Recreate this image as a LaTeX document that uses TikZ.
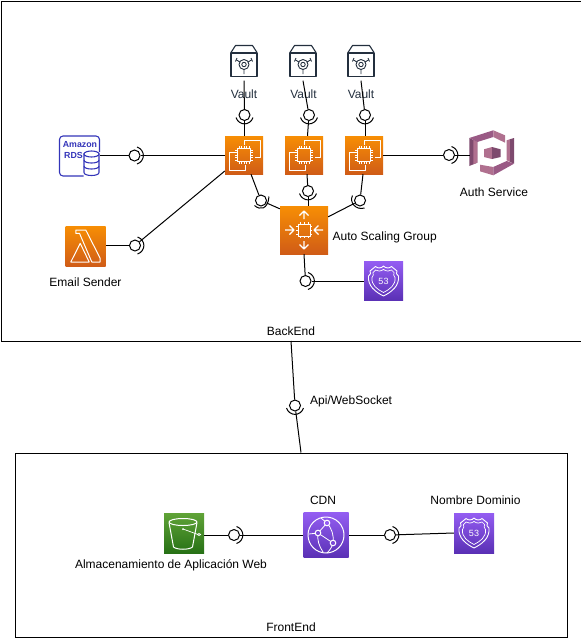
\documentclass[tikz,border=0pt]{standalone}
\usepackage{fontspec}
\setmainfont{Liberation Sans}
\definecolor{vaultc}{HTML}{232F3E}
\definecolor{rdsc}{HTML}{3334B9}
\definecolor{orangeT}{HTML}{F78E04}
\definecolor{orangeB}{HTML}{D05C17}
\definecolor{purpleT}{HTML}{945DF2}
\definecolor{purpleM}{HTML}{7A48D6}
\definecolor{purpleB}{HTML}{5A30B5}
\definecolor{greenT}{HTML}{60A337}
\definecolor{greenB}{HTML}{277116}
\definecolor{cogL}{HTML}{B0708F}
\definecolor{cogM}{HTML}{9A5A85}
\definecolor{cogD}{HTML}{7E4A6E}
\tikzset{
  x=1pt,y=-1pt,
  conn/.style={draw=black,line width=1pt},
  region/.style={draw=black,line width=1pt},
  lab/.style={inner sep=0pt,font=\fontsize{12}{14}\selectfont,text=black},
  awsbox/.style={rectangle,draw=none,inner sep=0pt},
  socket/.style={circle,draw=black,line width=1pt,fill=white,inner sep=0pt,minimum size=11pt},
  sockarc/.style={draw=black,line width=1pt},
  orange icon/.style={awsbox,bottom color=orangeB,top color=orangeT},
  purple icon/.style={awsbox,bottom color=purpleB,top color=purpleT},
  green icon/.style={awsbox,bottom color=greenB,top color=greenT},
  glyph/.style={draw=white,line width=1pt,line join=round},
  chip/.pic={
    \draw[glyph] (-6.5,-6.5) rectangle (6.5,6.5);
    \foreach \t in {-5,-2.5,0,2.5,5}{
      \draw[glyph,line width=0.7pt] (\t,-9) -- (\t,-6.5) (\t,6.5) -- (\t,9) (-9,\t) -- (-6.5,\t) (6.5,\t) -- (9,\t);
    }
    \draw[glyph] (0,-10) -- (0,-15) -- (16,-15) -- (16,2) -- (11,2);
    \draw[glyph] (-9,-3) -- (-15,-3) -- (-15,15) -- (1,15) -- (1,10);
  },
  scaler/.pic={
    \draw[glyph] (-6,-6) rectangle (6,6);
    \foreach \t in {-4,0,4}{
      \draw[glyph,line width=0.7pt] (\t,-8) -- (\t,-6) (\t,6) -- (\t,8) (-8,\t) -- (-6,\t) (6,\t) -- (8,\t);
    }
    \draw[glyph,line width=1.2pt] (0,-11) -- (0,-19) (-4.5,-14.5) -- (0,-19) -- (4.5,-14.5);
    \draw[glyph,line width=1.2pt] (0,11) -- (0,19) (-4.5,14.5) -- (0,19) -- (4.5,14.5);
    \draw[glyph,line width=1.2pt] (-19,0) -- (-10,0) (-14.5,-4.5) -- (-10,0) -- (-14.5,4.5);
    \draw[glyph,line width=1.2pt] (19,0) -- (10,0) (14.5,-4.5) -- (10,0) -- (14.5,4.5);
  },
  lambdaglyph/.pic={
    \draw[glyph] (-9.7,-16) -- (0.3,-16) -- (14.7,12.3) -- (14.7,16) -- (6.3,16) -- (-6,-12.7) -- (-9.7,-12.7) -- cycle;
    \draw[glyph] (-14.7,16) -- (-5.3,-2.7) -- (3.7,16) -- cycle;
  },
  shield/.pic={
    \draw[glyph,line width=0.9pt] (0,-15) .. controls (2,-12.5) and (6,-12.5) .. (8,-14.5) -- (13.5,-10) .. controls (12.5,-8) and (12.5,-6.5) .. (15,-5)
      .. controls (16,5) and (8,11) .. (0,15) .. controls (-8,11) and (-16,5) .. (-15,-5)
      .. controls (-12.5,-6.5) and (-12.5,-8) .. (-13.5,-10) -- (-8,-14.5) .. controls (-6,-12.5) and (-2,-12.5) .. (0,-15) -- cycle;
    \draw[glyph,line width=0.7pt] (0,-11.5) .. controls (3,-9.5) and (6,-9.5) .. (8,-11) -- (10.5,-8.5) .. controls (10,-6.5) and (10,-5) .. (11.5,-3.5)
      .. controls (12.5,4) and (6,8.5) .. (0,11.5) .. controls (-6,8.5) and (-12.5,4) .. (-11.5,-3.5)
      .. controls (-10,-5) and (-10,-6.5) .. (-10.5,-8.5) -- (-8,-11) .. controls (-6,-9.5) and (-3,-9.5) .. (0,-11.5) -- cycle;
    \node[inner sep=0pt,text=white,font=\fontsize{9}{9}\selectfont] (t53) at (0,0) {53};
  },
  bucket/.pic={
    \draw[glyph] (-1,-11) ellipse [x radius=14,y radius=3.5];
    \draw[glyph] (-15,-10.5) -- (-10.5,14) .. controls (-7,17) and (5,17) .. (8.5,14) -- (13,-10.5);
    \draw[glyph,line width=0.7pt] (-1,-4) -- (14,1.5);
    \draw[glyph,line width=0.7pt] (15,1.5) ellipse [x radius=1.8,y radius=1];
    \fill[white] (-1,-4) circle (1);
  },
  cdnglyph/.pic={
    \draw[glyph] (0,0) circle (18);
    \draw[glyph,line width=0.8pt] (1,-12) .. controls (6,-6) and (8,0) .. (7,8);
    \draw[glyph,line width=0.8pt] (1,-12) -- (-8,-2) (-8,-2) -- (7,8);
    \draw[glyph,line width=0.8pt] (1,-12) -- (-5,-17) (-8,-2) -- (-17,-1);
    \draw[glyph,line width=0.8pt] (7,8) .. controls (6,12) and (4,15) .. (1,18);
    \draw[glyph,line width=0.8pt] (-8,-2) .. controls (-9,5) and (-7,11) .. (-3,17);
    \draw[glyph,fill=purpleT] (1,-12) circle (2.8);
    \draw[glyph,fill=purpleM] (-8,-2) circle (2.8);
    \draw[glyph,fill=purpleM] (7,8) circle (2.8);
  },
  vaultglyph/.pic={
    \draw[draw=vaultc,line width=1.1pt,line join=round] (-13,-11.5) rectangle (13,12);
    \draw[draw=vaultc,line width=1.1pt,line join=round] (-13,-12) -- (-8.5,-19) -- (8.5,-19) -- (13,-12);
    \draw[draw=vaultc,line width=0.9pt] (0,0) circle (5);
    \draw[draw=vaultc,line width=0.9pt] (0,0) circle (2.2);
    \draw[draw=vaultc,line width=0.9pt] (-7.5,-4.5) -- (-4,-2.5) (7.5,-4.5) -- (4,-2.5) (0,5) -- (0,9.5);
    \draw[draw=vaultc,line width=0.9pt] (-7,-6.5) -- (-8.5,-3) (7,-6.5) -- (8.5,-3);
  },
  rdsglyph/.pic={
    \draw[draw=rdsc,line width=1.1pt,rounded corners=3.5pt] (4,20) -- (-20,20) -- (-20,-20) -- (20,-20) -- (20,-4);
    \node[inner sep=0pt,text=rdsc,font=\fontsize{8.8}{8.8}\selectfont\bfseries] (am) at (0.5,-11) {Amazon};
    \node[inner sep=0pt,text=rdsc,font=\fontsize{8.8}{8.8}\selectfont\bfseries,anchor=west] (rd) at (-15.5,-1) {RDS};
    \begin{scope}[draw=rdsc,line width=1.1pt,fill=white]
      \filldraw (4.5,-2) -- (4.5,16.5) .. controls (4.5,20.5) and (19.5,20.5) .. (19.5,16.5) -- (19.5,-2) -- cycle;
      \filldraw (12,-2) ellipse [x radius=7.5,y radius=3];
      \draw (4.5,4) .. controls (4.5,8) and (19.5,8) .. (19.5,4);
      \draw (4.5,10) .. controls (4.5,14) and (19.5,14) .. (19.5,10);
    \end{scope}
  },
  cognito/.pic={
    \fill[cogD] (-22.7,-15) -- (-14.7,-11) -- (-14.7,9.7) -- (-22.7,13) -- cycle;
    \fill[cogL] (-18.7,-13) -- (-14.7,-11) -- (-14.7,9.7) -- (-18.7,11.3) -- cycle;
    \fill[cogM] (-22.7,-15) -- (1.3,-22.7) -- (1.3,-16) -- (-14.7,-11) -- cycle;
    \fill[cogL] (1.3,-22.7) -- (13,-17.7) -- (13,-10.3) -- (1.3,-16) -- cycle;
    \fill[cogL] (14.7,-12.7) -- (18,-13.8) -- (18,9) -- (14.7,7.3) -- cycle;
    \fill[cogD] (18,-13.8) -- (22,-15) -- (22,10.7) -- (18,9) -- cycle;
    \fill[cogL] (-12,11.7) -- (1.3,14) -- (1.3,22.3) -- (-12,18.3) -- cycle;
    \fill[cogM] (1.3,14) -- (14.7,8) -- (22,10.7) -- (1.3,22.3) -- cycle;
    \fill[cogL] (-8,-3.7) -- (0,-6) -- (0,6) -- (-8,4) -- cycle;
    \fill[cogD] (0,-6) -- (8.7,-3.7) -- (8.7,4) -- (0,6) -- cycle;
  },
}
\newcommand{\sockR}[1]{\draw[sockarc] ([shift={(2.5,-8.5)}]#1.center) .. controls ([shift={(11,-5.5)}]#1.center) and ([shift={(11,5.5)}]#1.center) .. ([shift={(2.5,8.5)}]#1.center);}
\newcommand{\sockD}[1]{\draw[sockarc] ([shift={(-8.5,2.5)}]#1.center) .. controls ([shift={(-5.5,11)}]#1.center) and ([shift={(5.5,11)}]#1.center) .. ([shift={(8.5,2.5)}]#1.center);}
\begin{document}
\begin{tikzpicture}
\useasboundingbox (0,0) rectangle (581,638);
% regions
\node[region,rectangle,inner sep=0pt,minimum width=580pt,minimum height=340.5pt,anchor=north west] (backend) at (0.5,0.5) {};
\node[region,rectangle,inner sep=0pt,minimum width=552pt,minimum height=184pt,anchor=north west] (frontend) at (15,452.5) {};
% icons
\node[orange icon,minimum size=38pt] (ec1) at (244,155) {};
\node[orange icon,minimum size=38pt] (ec2) at (304,155) {};
\node[orange icon,minimum size=38pt] (ec3) at (364,155) {};
\node[orange icon,minimum size=48pt] (asg) at (304,230) {};
\node[purple icon,minimum size=39pt] (dnsb) at (383.5,281) {};
\node[orange icon,minimum size=40pt] (lam) at (85.5,246) {};
\node[green icon,minimum size=40pt] (sto) at (184,533) {};
\node[purple icon,minimum size=45pt] (cdn) at (326,535) {};
\node[purple icon,minimum size=40pt] (dnsf) at (474,533) {};
\node[rectangle,inner sep=0pt,minimum size=40pt] (rds) at (79.5,156) {};
\node[rectangle,inner sep=0pt,minimum width=26pt,minimum height=32pt] (v1) at (244,64.5) {};
\node[rectangle,inner sep=0pt,minimum width=26pt,minimum height=32pt] (v2) at (303,64.5) {};
\node[rectangle,inner sep=0pt,minimum width=26pt,minimum height=32pt] (v3) at (361,64.5) {};
\node[rectangle,inner sep=0pt,minimum width=44pt,minimum height=46pt] (auth) at (492,153) {};
% glyphs
\pic at (ec1.center) {chip};
\pic at (ec2.center) {chip};
\pic at (ec3.center) {chip};
\pic at (asg.center) {scaler};
\pic at (dnsb.center) {shield};
\pic at (dnsf.center) {shield};
\pic at (lam.center) {lambdaglyph};
\pic at (sto.center) {bucket};
\pic at (cdn.center) {cdnglyph};
\pic at (rds.center) {rdsglyph};
\pic at (v1.center) {vaultglyph};
\pic at (v2.center) {vaultglyph};
\pic at (v3.center) {vaultglyph};
\pic at (auth.center) {cognito};
% labels
\node[lab,text=vaultc] (lv1) at (244,94.2) {Vault};
\node[lab,text=vaultc] (lv2) at (303.5,94.2) {Vault};
\node[lab,text=vaultc] (lv3) at (361,94.2) {Vault};
\node[lab] (lauth) at (494,192.5) {Auth Service};
\node[lab,anchor=west] (lasg) at (332.5,237.5) {Auto Scaling Group};
\node[lab] (lmail) at (85.5,282) {Email Sender};
\node[lab] (lback) at (291,331) {BackEnd};
\node[lab,anchor=west] (lapi) at (310,401.5) {Api/WebSocket};
\node[lab] (lalm) at (171,565) {Almacenamiento de Aplicación Web};
\node[lab] (lcdn) at (323,500.5) {CDN};
\node[lab] (lnom) at (475.5,500.5) {Nombre Dominio};
\node[lab] (lfront) at (291,627) {FrontEnd};
% sockets
\node[socket] (s1) at (244.5,115) {};
\node[socket] (s2) at (309,115) {};
\node[socket] (s3) at (365,115) {};
\node[socket] (srds) at (134.5,155.5) {};
\node[socket] (slam) at (135,245.5) {};
\node[socket] (sauth) at (449,155) {};
\node[socket] (sa) at (261,200.5) {};
\node[socket] (sb) at (308,191) {};
\node[socket] (sc) at (360,200.5) {};
\node[socket] (sd) at (305.5,281) {};
\node[socket] (sapi) at (295,405.5) {};
\node[socket] (ssto) at (234,535) {};
\node[socket] (sdns) at (390,535) {};
% connectors
\draw[conn] (v1.south) -- (s1);
\draw[conn] (s1) -- (s1|-ec1.north);
\draw[conn] (v2.south) -- (s2);
\draw[conn] (s2) -- ([xshift=3.5pt]ec2.north);
\draw[conn] (v3.south) -- (s3);
\draw[conn] (s3) -- (s3|-ec3.north);
\draw[conn] (srds) -- (rds.east|-srds);
\draw[conn] (srds) -- (ec1.west|-srds);
\draw[conn] (slam) -- ([yshift=-16pt]ec1.west);
\draw[conn] (slam) -- (lam.east|-slam);
\draw[conn] (sauth) -- (ec3.east|-sauth);
\draw[conn] (sauth) -- (auth.west|-sauth);
\draw[conn] (sa) -- ([xshift=7pt]ec1.south);
\draw[conn] (sa) -- ([yshift=-3pt]asg.north west);
\draw[conn] (sb) -- ([xshift=3pt]ec2.south);
\draw[conn] (sb) -- (sb|-asg.north);
\draw[conn] (sc) -- ([xshift=-1pt]ec3.south);
\draw[conn] (sc) -- ([yshift=-11pt]asg.north east);
\draw[conn] (sd) -- (asg.south);
\draw[conn] (sd) -- (dnsb.west|-sd);
\draw[conn] (sapi) -- (291,341);
\draw[conn] (sapi) -- (301,452.5);
\draw[conn] (ssto) -- (sto.east|-ssto);
\draw[conn] (ssto) -- (cdn.west|-ssto);
\draw[conn] (sdns) -- (cdn.east|-sdns);
\draw[conn] (sdns) -- (dnsf.west);
% socket cups
\foreach \n in {srds,slam,sauth,sd,ssto,sdns}{\sockR{\n}}
\foreach \n in {s1,s2,s3,sb,sapi}{\sockD{\n}}
\draw[sockarc] ([shift={(-6.5,5)}]sa.center) .. controls ([shift={(-1,10)}]sa.center) and ([shift={(7,9)}]sa.center) .. ([shift={(8,-4)}]sa.center);
\draw[sockarc] ([shift={(-7.5,-5)}]sc.center) .. controls ([shift={(-11,2)}]sc.center) and ([shift={(-4,10)}]sc.center) .. ([shift={(4.5,7.5)}]sc.center);
\end{tikzpicture}
\end{document}
